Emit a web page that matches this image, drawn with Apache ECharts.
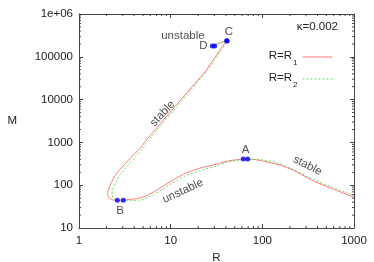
<!DOCTYPE html>
<html><head><meta charset="utf-8">
<script src="https://cdn.jsdelivr.net/npm/echarts@6/dist/echarts.min.js"></script>
<style>html,body{margin:0;padding:0;background:#fff}#c{width:374px;height:262px}</style>
</head><body><div id="c"></div>
<script>
// ---- data ----
const xTickLabels = ['1', '10', '100', '1000'];
const yTickLabels = ['10', '100', '1000', '10000', '100000', '1e+06'];
const seriesNames = ['R=R1', 'R=R2'];
// curve R=R1 : [R, M]
const curve1R = [28.5, 32.0, 34.5, 37.7, 40.8, 34.5, 29.0, 23.7, 16.3, 11.1, 7.65, 5.25, 4.63, 3.76, 3.16, 2.58, 2.23, 2.09, 2.05, 2.12, 2.29, 2.62, 3.02, 3.60, 4.40, 5.25, 6.42, 7.98, 10.3, 14.3, 20.9, 29.2, 42.2, 62.0, 83.2, 121, 156, 227, 357, 590, 1000];
const curve1M = [178000, 199000, 213500, 227600, 237700, 144200, 84100, 44900, 17700, 6820, 2690, 1038, 719, 463, 308, 190, 111, 77.3, 60.7, 50.2, 45.6, 44.4, 45.1, 46.3, 49.4, 54.4, 68.5, 90.8, 127, 187, 252, 296, 367, 409, 398, 336, 296, 215, 127, 81.5, 52.1];
// curve R=R2 : [R, M]
const curve2R = [30.2, 32.4, 35.0, 38.2, 41.4, 35.4, 30.1, 24.6, 16.9, 11.7, 8.04, 5.59, 4.99, 4.13, 3.51, 2.87, 2.49, 2.32, 2.29, 2.38, 2.60, 3.04, 3.60, 4.40, 5.25, 6.42, 7.98, 10.3, 14.3, 20.9, 29.2, 42.2, 69.2, 94.3, 137, 200, 357, 590, 1000];
const curve2M = [175800, 195900, 210000, 224000, 233900, 144200, 84100, 44900, 17700, 6820, 2690, 1038, 719, 463, 308, 190, 111, 77.3, 60.7, 48.9, 43.9, 43.2, 43.2, 44.4, 48.1, 59.0, 78.1, 110, 164, 220, 266, 348, 409, 398, 345, 255, 138, 88.4, 56.8];
// special points (blue dots)
const markR = [62.0, 69.2, 2.62, 3.04, 40.8, 41.4, 28.5, 30.2];
const markM = [409, 409, 44.4, 44.4, 237700, 233900, 178000, 178000];
// annotations: text, R, M, rotation
const annText = ['A', 'B', 'C', 'D', 'unstable', 'stable', 'unstable', 'stable'];
const annR = [65.5, 2.80, 43.3, 22.8, 13.6, 8.15, 13.6, 311];
const annM = [664, 25.6, 390000, 178000, 306000, 4730, 73.1, 288];
const annRot = [0, 0, 0, 0, 0, 47, 25, -27];
const kappaText = 'κ=0.002';
// minor tick multipliers for log axes
const minorMult = [2, 3, 4, 5, 6, 7, 8, 9];

const FONT = 'Liberation Sans, Arial, sans-serif';
const zip = (a, b) => a.map((v, i) => [v, b[i]]);

const xMin = 1, xMax = 1000, yMin = 10, yMax = 1e6;
const xMinor = [], yMinor = [];
for (let d = 0; d < 3; d++) minorMult.forEach(m => xMinor.push([m * Math.pow(10, d), yMin]));
for (let d = 1; d < 6; d++) minorMult.forEach(m => yMinor.push([xMin, m * Math.pow(10, d)]));

const axisCol = '#444';
function lbl(arr, base) {
  return v => { const i = Math.round(Math.log10(v)) - base; return arr[i] !== undefined ? arr[i] : ''; };
}
const chart = echarts.init(document.getElementById('c'), null, {renderer: 'canvas'});
const tickStyle = {show: true, inside: true, length: 4, lineStyle: {color: axisCol, width: 1}};
const lineCol = {color: axisCol, width: 1};
const redCol = '#ff7878', greenCol = '#66dd66';
const option = {
  animation: false,
  backgroundColor: '#fff',
  textStyle: {fontFamily: FONT},
  grid: {left: 79, right: 20, top: 14, bottom: 34, containLabel: false, outerBoundsMode: 'none'},
  xAxis: [
    {type: 'log', logBase: 10, min: xMin, max: xMax, position: 'bottom',
     name: 'R', nameLocation: 'middle', nameGap: 22,
     nameTextStyle: {fontSize: 11.5, color: '#222', fontFamily: FONT},
     axisLine: {show: true, lineStyle: lineCol}, axisTick: tickStyle, splitLine: {show: false},
     axisLabel: {formatter: lbl(xTickLabels, 0), fontSize: 11.5, color: '#222', fontFamily: FONT, margin: 7}},
    {type: 'log', logBase: 10, min: xMin, max: xMax, position: 'top',
     axisLine: {show: true, lineStyle: lineCol}, axisTick: tickStyle, splitLine: {show: false},
     axisLabel: {show: false}}
  ],
  yAxis: [
    {type: 'log', logBase: 10, min: yMin, max: yMax, position: 'left',
     name: 'M', nameLocation: 'middle', nameGap: 62, nameRotate: 0,
     nameTextStyle: {fontSize: 11.5, color: '#222', fontFamily: FONT},
     axisLine: {show: true, lineStyle: lineCol}, axisTick: tickStyle, splitLine: {show: false},
     axisLabel: {formatter: lbl(yTickLabels, 1), fontSize: 11.5, color: '#222', fontFamily: FONT, margin: 6}},
    {type: 'log', logBase: 10, min: yMin, max: yMax, position: 'right',
     axisLine: {show: true, lineStyle: lineCol}, axisTick: tickStyle, splitLine: {show: false},
     axisLabel: {show: false}}
  ],
  legend: {
    orient: 'vertical', right: 36, top: 45, align: 'right',
    itemWidth: 30, itemHeight: 14, itemGap: 5,
    data: seriesNames,
    itemStyle: {opacity: 0},
    lineStyle: {width: 1},
    formatter: n => '{m|' + n.slice(0, 3) + '}{s|' + n.slice(3) + '}',
    textStyle: {
      fontFamily: FONT, color: '#222', fontSize: 11.5,
      rich: {
        m: {fontSize: 11.5, fontFamily: FONT, color: '#222', verticalAlign: 'top', lineHeight: 14},
        s: {fontSize: 8, fontFamily: FONT, color: '#222', verticalAlign: 'top', lineHeight: 8, padding: [9, 0, 0, 1]}
      }
    }
  },
  graphic: [
    {type: 'text', right: 36, top: 21,
     style: {text: kappaText, fontSize: 11.5, fontFamily: FONT, fill: '#222'}}
  ],
  series: [
    {name: seriesNames[0], type: 'line', data: zip(curve1R, curve1M), symbol: 'none', smooth: 0.15,
     lineStyle: {color: redCol, width: 1}, itemStyle: {color: redCol}, z: 3},
    {name: seriesNames[1], type: 'line', data: zip(curve2R, curve2M), symbol: 'none', smooth: 0.15,
     lineStyle: {color: greenCol, width: 1, type: [2, 2]}, itemStyle: {color: greenCol}, z: 3},
    {name: 'points', type: 'scatter', data: zip(markR, markM), symbol: 'circle', symbolSize: 5,
     itemStyle: {color: '#0000ff'}, z: 5},
    {name: 'ann', type: 'scatter', symbolSize: 1, itemStyle: {color: 'rgba(0,0,0,0)'}, z: 6,
     data: annText.map((t, i) => ({name: t, value: [annR[i], annM[i]], label: {rotate: annRot[i]}})),
     label: {show: true, position: 'inside', formatter: '{b}', fontSize: 11.5, fontFamily: FONT, color: '#222'}},
    {name: 'xminor', type: 'custom', data: xMinor, z: 2, silent: true,
     renderItem: (params, api) => {
       const v = api.value(0);
       const b = api.coord([v, yMin]), t = api.coord([v, yMax]);
       return {type: 'group', children: [
         {type: 'line', shape: {x1: b[0], y1: b[1], x2: b[0], y2: b[1] - 2}, style: {stroke: axisCol, lineWidth: 1}},
         {type: 'line', shape: {x1: t[0], y1: t[1], x2: t[0], y2: t[1] + 2}, style: {stroke: axisCol, lineWidth: 1}}
       ]};
     }},
    {name: 'yminor', type: 'custom', data: yMinor, z: 2, silent: true,
     renderItem: (params, api) => {
       const v = api.value(1);
       const l = api.coord([xMin, v]), r = api.coord([xMax, v]);
       return {type: 'group', children: [
         {type: 'line', shape: {x1: l[0], y1: l[1], x2: l[0] + 2, y2: l[1]}, style: {stroke: axisCol, lineWidth: 1}},
         {type: 'line', shape: {x1: r[0], y1: r[1], x2: r[0] - 2, y2: r[1]}, style: {stroke: axisCol, lineWidth: 1}}
       ]};
     }}
  ]
};
chart.setOption(option);
</script></body></html>
